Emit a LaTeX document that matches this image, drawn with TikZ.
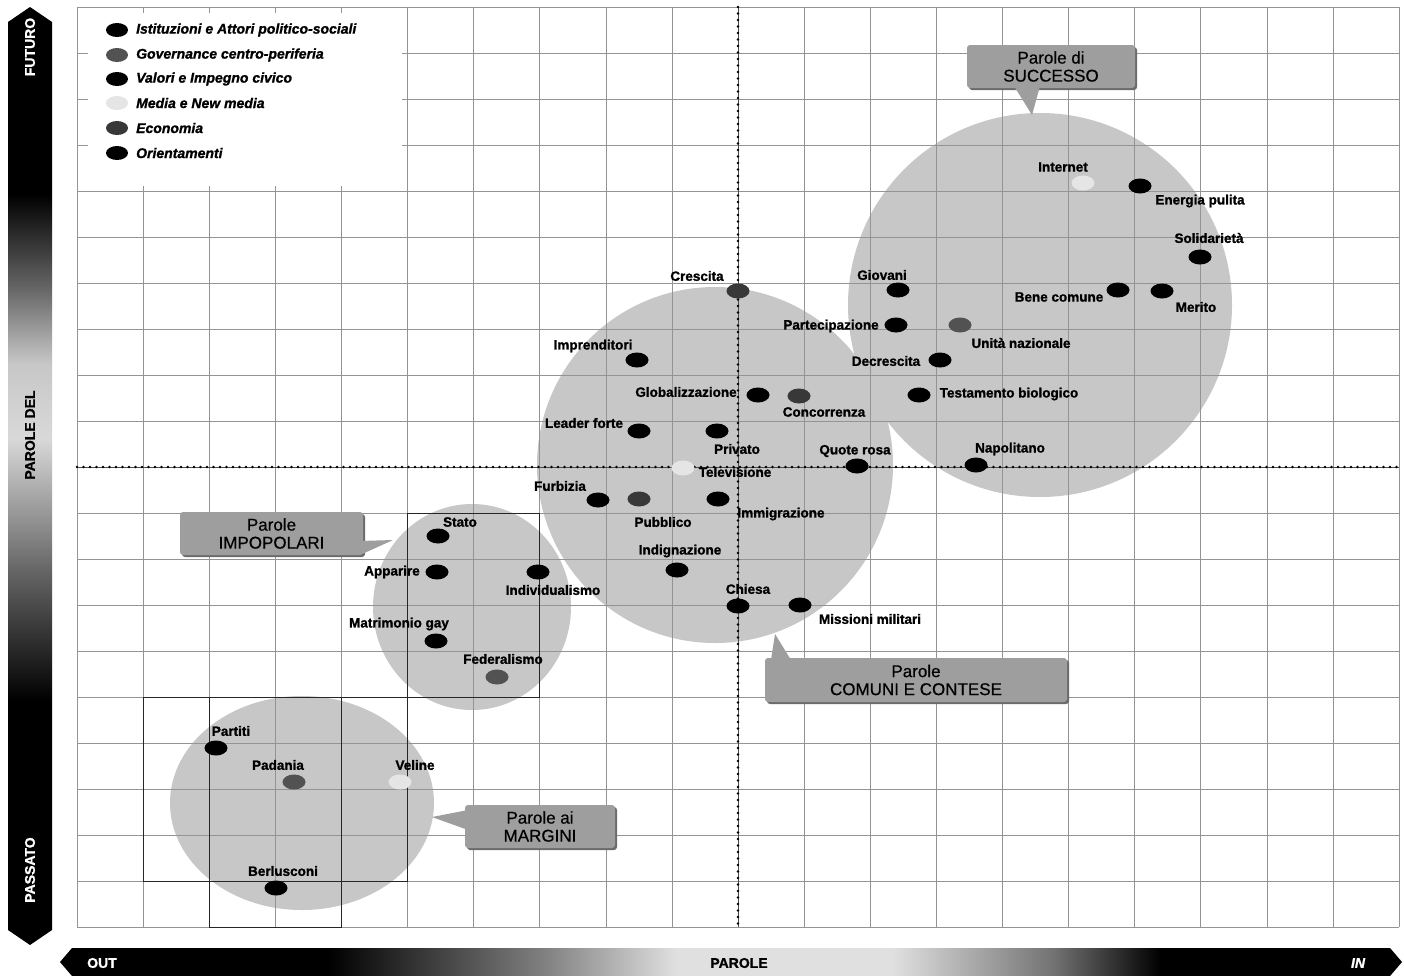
\documentclass[tikz,border=0pt]{standalone}
\usepackage{fontspec}
\setmainfont{Liberation Sans}
\newfontfamily\heavyfont{Liberation Sans}[BoldFeatures={FakeBold=1.2}, BoldItalicFeatures={FakeBold=1.2}]
\newfontfamily\calloutfont{Liberation Sans}[FakeBold=0.5]
\usetikzlibrary{shapes.geometric}
\pgfdeclareverticalshading{vbarshade}{100bp}{color(0bp)=(black); color(25bp)=(black); color(38bp)=(black); color(45bp)=(black!60); color(52bp)=(black!15); color(56bp)=(black!22); color(60bp)=(black!60); color(65bp)=(black); color(75bp)=(black); color(100bp)=(black)}
\pgfdeclarehorizontalshading{hbarshade}{100bp}{color(0bp)=(black); color(25bp)=(black); color(35bp)=(black); color(43bp)=(black!50); color(48bp)=(black!12); color(56bp)=(black!12); color(62bp)=(black!55); color(66bp)=(black); color(75bp)=(black); color(100bp)=(black)}
\colorlet{govcol}{black!68}
\colorlet{ecocol}{black!78}
\colorlet{medcol}{black!10}
\colorlet{circcol}{black!22}
\colorlet{boxcol}{black!38}
\tikzset{
  gridl/.style={black!42, line width=0.5pt},
  darkl/.style={black!85, line width=0.9pt},
  axisdots/.style={black, line width=2.6pt, line cap=round, dash pattern=on 0pt off 6.5pt},
  axisline/.style={black!70, line width=0.5pt},
  wdot/.style={ellipse, minimum width=23pt, minimum height=15pt, inner sep=0pt},
  wlab/.style={font=\heavyfont\fontsize{13.5}{14}\selectfont\bfseries, inner sep=0pt, text=black},
  legdot/.style={ellipse, minimum width=22pt, minimum height=14pt, inner sep=0pt},
  legtext/.style={font=\heavyfont\fontsize{14}{15}\selectfont\bfseries\itshape, anchor=west, inner sep=0pt},
  callout/.style={fill=boxcol, rounded corners=3pt, align=center, inner sep=0pt, font=\calloutfont\fontsize{17}{18}\selectfont},
  calshadow/.style={fill=black!58, rounded corners=3pt},
  bartext/.style={font=\heavyfont\fontsize{14}{15}\selectfont\bfseries, text=white, inner sep=0pt},
}
\newcommand\wdt[7]{%
  \node[wdot, fill=#4] (#1) at (#2,#3) {};
  \node[wlab] (#1-l) at (#5,#6) {#7};
}
\begin{document}
\begin{tikzpicture}[x=1pt, y=-1pt]
\useasboundingbox (0,0) rectangle (1404,975);
\fill[white] (0,0) rectangle (1404,975);

% big regions
\fill[circcol] (1040,305) circle (192);
\fill[circcol] (715,465) circle (178);
\fill[circcol] (472,607) ellipse (99 and 103);
\fill[circcol] (302,803) ellipse (132 and 107);

% grid
\foreach \i in {0,...,20} {
  \draw[gridl] ({77+66.1*\i},7) -- ({77+66.1*\i},927);
  \draw[gridl] (77,{7+46*\i}) -- (1399,{7+46*\i});
}
\draw[darkl] (407.5,513) rectangle (539.7,697);
\draw[darkl] (143.1,697) rectangle (407.5,881);
\draw[darkl] (209.2,697) rectangle (341.4,927);

% axes
\coordinate (vt) at (738,7);
\coordinate (vb) at (738,927);
\coordinate (hl) at (77,467);
\coordinate (hr) at (1399,467);
\draw[axisline] (vt) -- (vb);
\draw[axisline] (hl) -- (hr);
\draw[axisdots] (vt) -- (vb);
\draw[axisdots] (hl) -- (hr);

% legend
\fill[white] (88,13) rectangle (402,186);
\node[legdot, fill=black] (lg1) at (117,30) {};
\node[legtext] at (136,30) (lt1) {Istituzioni e Attori politico-sociali};
\node[legdot, fill=govcol] (lg2) at (117,55) {};
\node[legtext] at (136,55) (lt2) {Governance centro-periferia};
\node[legdot, fill=black] (lg3) at (117,79) {};
\node[legtext] at (136,79) (lt3) {Valori e Impegno civico};
\node[legdot, fill=medcol] (lg4) at (117,103) {};
\node[legtext] at (136,103) (lt4) {Media e New media};
\node[legdot, fill=ecocol] (lg5) at (117,128) {};
\node[legtext] at (136,128) (lt5) {Economia};
\node[legdot, fill=black] (lg6) at (117,153) {};
\node[legtext] at (136,153) (lt6) {Orientamenti};

% words
\wdt{internet}{1083}{183}{medcol}{1063}{167}{Internet}
\wdt{energia}{1140}{186}{black}{1200}{201}{Energia pulita}
\wdt{solid}{1200}{257}{black}{1209}{238}{Solidarietà}
\wdt{bene}{1118}{290}{black}{1059}{297}{Bene comune}
\wdt{merito}{1162}{291}{black}{1196}{307}{Merito}
\wdt{giovani}{898}{290}{black}{882}{275}{Giovani}
\wdt{partec}{896}{325}{black}{831}{326}{Partecipazione}
\wdt{unita}{960}{325}{govcol}{1021}{343}{Unità nazionale}
\wdt{decresc}{940}{360}{black}{886}{361}{Decrescita}
\wdt{testam}{919}{395}{black}{1009}{394}{Testamento biologico}
\wdt{napol}{976}{465}{black}{1010}{449}{Napolitano}
\wdt{quote}{857}{466}{black}{855}{451}{Quote rosa}
\wdt{crescita}{738}{291}{ecocol}{697}{276}{Crescita}
\wdt{impren}{637}{360}{black}{593}{346}{Imprenditori}
\wdt{global}{758}{395}{black}{686}{392}{Globalizzazione}
\wdt{concorr}{799}{396}{ecocol}{824}{412}{Concorrenza}
\wdt{leader}{639}{431}{black}{584}{423}{Leader forte}
\wdt{privato}{717}{431}{black}{737}{449}{Privato}
\wdt{televis}{683}{468}{medcol}{735}{472}{Televisione}
\wdt{furbizia}{598}{500}{black}{560}{486}{Furbizia}
\wdt{pubblico}{639}{499}{ecocol}{663}{522}{Pubblico}
\wdt{immigr}{718}{499}{black}{781}{514}{Immigrazione}
\wdt{indign}{677}{570}{black}{680}{551}{Indignazione}
\wdt{chiesa}{738}{606}{black}{748}{589}{Chiesa}
\wdt{missioni}{800}{605}{black}{870}{619}{Missioni militari}
\wdt{stato}{438}{536}{black}{460}{522}{Stato}
\wdt{apparire}{437}{572}{black}{392}{572}{Apparire}
\wdt{individ}{538}{572}{black}{553}{590}{Individualismo}
\wdt{matrim}{436}{641}{black}{399}{624}{Matrimonio gay}
\wdt{feder}{497}{677}{govcol}{503}{659}{Federalismo}
\wdt{partiti}{216}{748}{black}{231}{731}{Partiti}
\wdt{padania}{294}{782}{govcol}{278}{765}{Padania}
\wdt{veline}{400}{782}{medcol}{415}{765}{Veline}
\wdt{berlus}{276}{888}{black}{283}{871}{Berlusconi}

% callouts
\fill[calshadow] (969,47) rectangle (1137,90);
\fill[boxcol] (1014,86) -- (1032,115) -- (1040,86) -- cycle;
\node[callout, minimum width=168pt, minimum height=43pt] (succ) at (1051,66.5) {Parole di\\SUCCESSO};
\fill[calshadow] (182,514) rectangle (365,557);
\fill[boxcol] (360,541) -- (393,540) -- (360,555) -- cycle;
\node[callout, minimum width=183pt, minimum height=43pt] (impop) at (271.5,533.5) {Parole\\IMPOPOLARI};
\fill[calshadow] (767,660) rectangle (1069,704);
\fill[boxcol] (771,660) -- (775,634) -- (791,660) -- cycle;
\node[callout, minimum width=302pt, minimum height=44pt] (comuni) at (916,680) {Parole\\COMUNI E CONTESE};
\fill[calshadow] (467,807) rectangle (617,850);
\fill[boxcol] (468,810) -- (432,817) -- (468,830) -- cycle;
\node[callout, minimum width=150pt, minimum height=43pt] (marg) at (540,826.5) {Parole ai\\MARGINI};

% left bar
\shade[shading=vbarshade] (8,22) -- (30,7) -- (52,22) -- (52,930) -- (30,945) -- (8,930) -- cycle;
\node[bartext, rotate=90] (futuro) at (30,47) {FUTURO};
\node[bartext, rotate=90, text=black] (paroledel) at (30,435) {PAROLE DEL};
\node[bartext, rotate=90] (passato) at (30,870) {PASSATO};

% bottom bar
\shade[shading=hbarshade] (60,962) -- (72,948) -- (1390,948) -- (1402,962) -- (1390,976) -- (72,976) -- cycle;
\node[bartext] (out) at (102,963) {OUT};
\node[bartext, text=black] (parole) at (739,963) {PAROLE};
\node[bartext, font=\heavyfont\fontsize{14}{15}\selectfont\bfseries\itshape] (in) at (1358,963) {IN};
\end{tikzpicture}
\end{document}
